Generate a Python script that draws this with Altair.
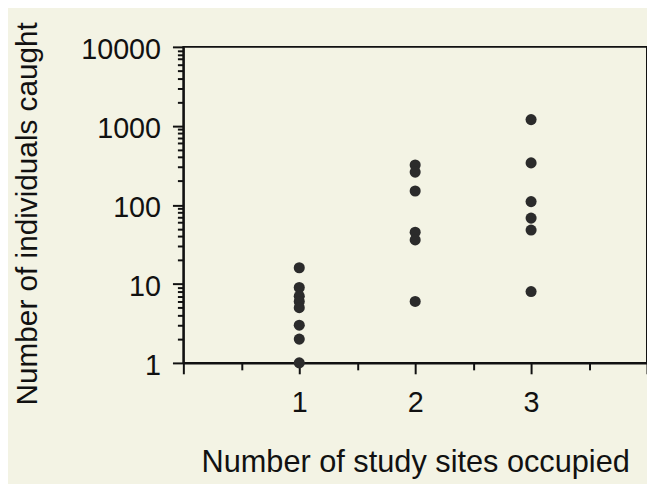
import altair as alt
import pandas as pd

# data
sites_1 = [16, 9, 7, 6, 5, 3, 2, 1]
sites_2 = [320, 260, 150, 45, 36, 6]
sites_3 = [1200, 340, 110, 68, 48, 8]

x_ticks = [0, 0.5, 1, 1.5, 2, 2.5, 3, 3.5, 4]
x_labels = [1, 2, 3]
y_major = [1, 10, 100, 1000, 10000]
y_ticks = [m * d for d in [1, 10, 100, 1000] for m in range(1, 10)] + [10000]

rows = ([{"sites": 1, "n": v} for v in sites_1]
        + [{"sites": 2, "n": v} for v in sites_2]
        + [{"sites": 3, "n": v} for v in sites_3])
df = pd.DataFrame(rows)

FONT = "Liberation Sans"
BG = "#f3f3e4"

x_axis = alt.Axis(
    values=x_ticks,
    labelExpr="indexof(%s, datum.value) >= 0 ? datum.value : ''" % str(x_labels),
    tickSize={"condition": {"test": "datum.value % 1 == 0", "value": 11}, "value": 7},
    tickWidth=2, tickColor="#111", domainColor="#111", domainWidth=2,
    labelFont=FONT, labelFontSize=29, labelColor="#111", labelPadding=15,
    labelOverlap=False, labelFlush=False, grid=False,
    title="Number of study sites occupied", titleFont=FONT, titleFontSize=31,
    titleFontWeight="normal", titleColor="#111",
    titleX=234, titleY=110, titleBaseline="alphabetic", titleAlign="center",
)

y_axis = alt.Axis(
    values=y_ticks,
    labelExpr="indexof(%s, datum.value) >= 0 ? datum.value : ''" % str(y_major),
    tickSize={"condition": {"test": "indexof(%s, datum.value) >= 0" % str(y_major), "value": 11}, "value": 6},
    tickWidth=2, tickColor="#111", domainColor="#111", domainWidth=2,
    labelFont=FONT, labelFontSize=29, labelColor="#111", labelPadding=12,
    labelOffset=3,
    labelOverlap=False, labelFlush=False, grid=False,
    title="Number of individuals caught", titleFont=FONT, titleFontSize=30,
    titleFontWeight="normal", titleColor="#111",
    titleX=-148, titleY=168, titleAngle=-90, titleBaseline="alphabetic", titleAlign="center",
)

chart = alt.Chart(df).mark_circle(size=125, color="#2b2b2b", opacity=1).encode(
    x=alt.X("sites:Q", scale=alt.Scale(domain=[0, 4], nice=False, zero=False), axis=x_axis),
    y=alt.Y("n:Q", scale=alt.Scale(type="log", domain=[1, 10000], nice=False), axis=y_axis),
).properties(
    width=468,
    height=319,
    background=BG,
    padding={"left": 177, "top": 37, "right": 0, "bottom": 120},
    autosize=alt.AutoSizeParams(type="none"),
).configure_view(
    stroke="#111", strokeWidth=2, fill=BG
)

chart.save("out.html", embed_options={"renderer": "svg", "actions": False})
